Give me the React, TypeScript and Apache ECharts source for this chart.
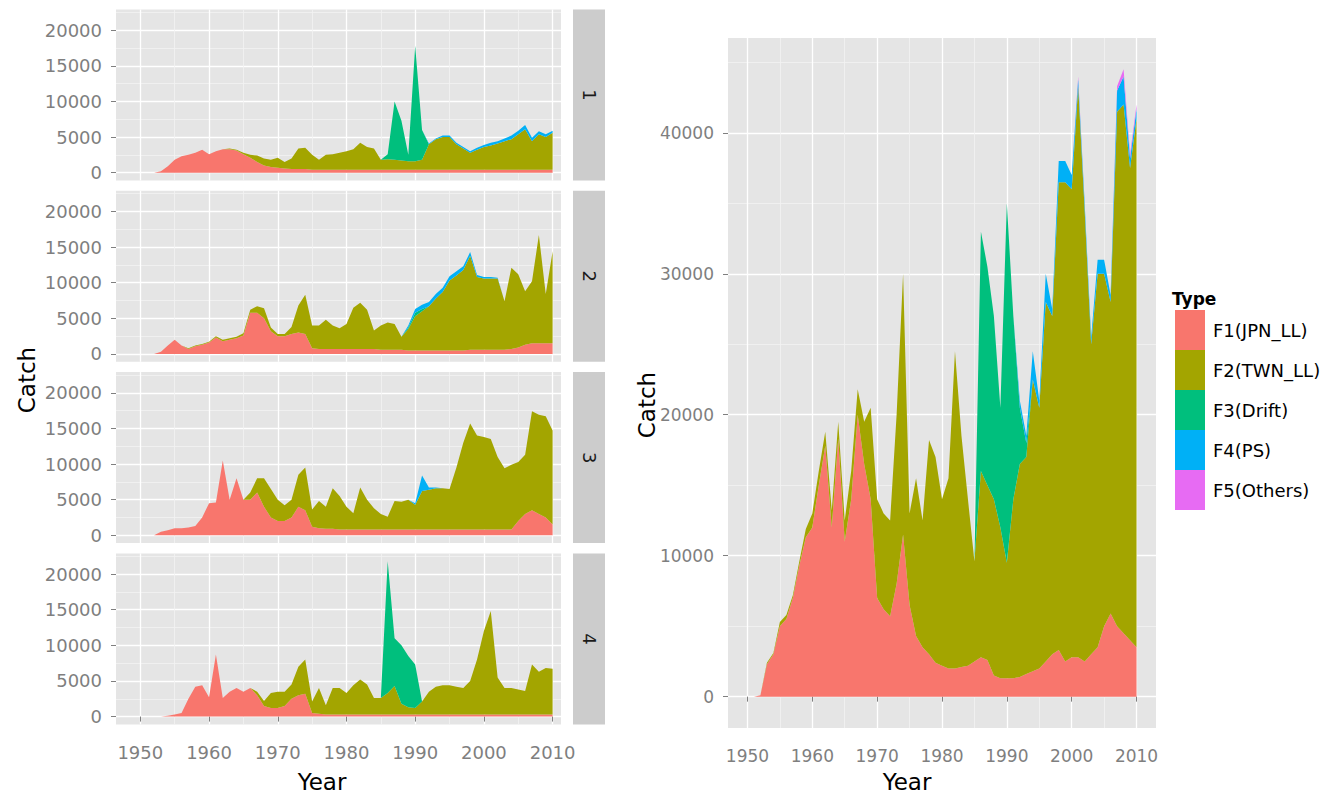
import React, { useEffect, useRef } from "react";
import * as echarts from "echarts";

// ---------------- data ----------------
const YEARS = [
  1950, 1951, 1952, 1953, 1954, 1955, 1956, 1957, 1958, 1959,
  1960, 1961, 1962, 1963, 1964, 1965, 1966, 1967, 1968, 1969,
  1970, 1971, 1972, 1973, 1974, 1975, 1976, 1977, 1978, 1979,
  1980, 1981, 1982, 1983, 1984, 1985, 1986, 1987, 1988, 1989,
  1990, 1991, 1992, 1993, 1994, 1995, 1996, 1997, 1998, 1999,
  2000, 2001, 2002, 2003, 2004, 2005, 2006, 2007, 2008, 2009,
  2010,
];
const TYPES = ["F1(JPN_LL)", "F2(TWN_LL)", "F3(Drift)", "F4(PS)", "F5(Others)"];
const COLORS = ["#F8766D", "#A3A500", "#00BF7D", "#00B0F6", "#E76BF3"];
const FACETS = ["1", "2", "3", "4"];
const LEFT_Y_TICKS = [0, 5000, 10000, 15000, 20000];
const LEFT_Y_MINOR = [2500, 7500, 12500, 17500, 22500];
const RIGHT_Y_TICKS = [0, 10000, 20000, 30000, 40000];
const RIGHT_Y_MINOR = [5000, 15000, 25000, 35000, 45000];
const X_TICKS = [1950, 1960, 1970, 1980, 1990, 2000, 2010];
const X_MINOR = [1955, 1965, 1975, 1985, 1995, 2005];

// Panel 1
const P1_F1 = [
  0, 0, 0, 200, 900, 1800, 2300, 2500, 2800, 3200,
  2600, 3000, 3300, 3300, 3100, 2600, 2100, 1500, 1000, 800,
  700, 600, 500, 500, 500, 400, 400, 400, 400, 400,
  400, 400, 400, 400, 400, 400, 400, 400, 400, 400,
  400, 400, 400, 400, 400, 400, 400, 400, 400, 400,
  400, 400, 400, 400, 400, 400, 400, 400, 400, 400,
  400,
];
const P1_F2 = [
  0, 0, 0, 0, 0, 0, 0, 0, 0, 0,
  0, 0, 0, 100, 100, 200, 400, 900, 1000, 1000,
  1400, 900, 1500, 2900, 3000, 2100, 1400, 2100, 2200, 2400,
  2600, 2900, 3800, 3200, 3000, 1400, 1500, 1400, 1300, 1200,
  1200, 1400, 3600, 4300, 4600, 4600, 3600, 3000, 2400, 2800,
  3200, 3400, 3700, 4000, 4300, 5000, 5700, 4000, 5000, 4600,
  5200,
];
const P1_F3: Record<number, number> = { 1986: 700, 1987: 8200, 1988: 5600, 1989: 900, 1990: 16200, 1991: 4200 };
const P1_F4: Record<number, number> = {
  1992: 100, 1993: 100, 1994: 200, 1995: 200, 1996: 200, 1997: 200, 1998: 200, 1999: 300,
  2000: 300, 2001: 400, 2002: 300, 2003: 400, 2004: 500, 2005: 500, 2006: 600, 2007: 500,
  2008: 400, 2009: 400, 2010: 300,
};

// Panel 2
const P2_F1 = [
  0, 0, 0, 300, 1200, 2000, 1200, 700, 1100, 1300,
  1600, 2300, 1800, 2000, 2200, 2600, 5800, 5800, 5000, 3200,
  2500, 2500, 2800, 3000, 2800, 800, 700, 700, 700, 700,
  700, 700, 700, 700, 700, 600, 600, 600, 600, 500,
  500, 500, 500, 500, 500, 500, 500, 500, 600, 600,
  600, 600, 600, 600, 700, 900, 1300, 1500, 1500, 1500,
  1500,
];
const P2_F2 = [
  0, 0, 0, 0, 0, 0, 0, 100, 100, 100,
  100, 200, 200, 200, 200, 300, 400, 900, 1400, 500,
  300, 300, 1000, 3800, 5500, 3200, 3300, 4100, 3300, 2900,
  3500, 5800, 6500, 5500, 2600, 3400, 3800, 3600, 1800, 3000,
  4800, 5500, 6200, 7300, 8200, 9800, 10500, 11300, 13200, 10200,
  10000, 10000, 10000, 6800, 11400, 10300, 7500, 8700, 15200, 6900,
  12900,
];
const P2_F3: Record<number, number> = { 1989: 200, 1990: 500, 1991: 300 };
const P2_F4: Record<number, number> = {
  1989: 300, 1990: 500, 1991: 600, 1992: 600, 1993: 600, 1994: 600, 1995: 600, 1996: 600,
  1997: 500, 1998: 500, 1999: 300, 2000: 200, 2001: 200, 2002: 100,
};

// Panel 3
const P3_F1 = [
  0, 0, 0, 500, 700, 1000, 1000, 1100, 1300, 2500,
  4500, 4600, 10500, 5000, 8000, 5000, 5000, 6000, 4000, 2500,
  2000, 2000, 2500, 4000, 3500, 1200, 1000, 900, 900, 800,
  800, 800, 800, 800, 800, 800, 800, 800, 800, 800,
  800, 800, 800, 800, 800, 800, 800, 800, 800, 800,
  800, 800, 800, 800, 800, 2000, 3000, 3500, 3000, 2500,
  1500,
];
const P3_F2 = [
  0, 0, 0, 0, 0, 0, 0, 0, 0, 0,
  0, 0, 0, 0, 0, 0, 1000, 2000, 4000, 4000,
  3000, 2200, 2500, 4500, 6000, 2400, 3800, 3100, 5700, 4700,
  3200, 2300, 5900, 4200, 3000, 2200, 1800, 4000, 3900, 4200,
  3500, 5400, 5600, 5800, 5800, 5700, 8700, 12200, 14900, 13200,
  13000, 12700, 10200, 8600, 9100, 8300, 8300, 13900, 13900, 14200,
  13200,
];
const P3_F4: Record<number, number> = { 1990: 200, 1991: 2200, 1992: 300, 1993: 100 };

// Panel 4
const P4_F1 = [
  0, 0, 0, 0, 100, 300, 500, 2500, 4200, 4400,
  2700, 8700, 2600, 3500, 4000, 3500, 4000, 3000, 1500, 1200,
  1200, 1500, 2500, 3000, 3200, 500, 400, 300, 300, 300,
  300, 300, 300, 300, 300, 300, 300, 300, 300, 300,
  300, 300, 300, 300, 300, 300, 300, 300, 300, 300,
  300, 300, 300, 300, 300, 300, 300, 300, 300, 300,
  300,
];
const P4_F2 = [
  0, 0, 0, 0, 0, 0, 0, 0, 0, 0,
  0, 0, 0, 0, 0, 0, 0, 500, 700, 2100,
  2300, 2000, 2000, 4000, 4800, 1600, 3600, 1300, 3700, 3700,
  3000, 4100, 4900, 4200, 2300, 2300, 3000, 4000, 1500, 1000,
  900, 1800, 3200, 3900, 4100, 4100, 3900, 3700, 4700, 7700,
  11700, 14500, 5200, 3700, 3700, 3500, 3300, 7000, 6000, 6500,
  6400,
];
const P4_F3: Record<number, number> = { 1986: 18500, 1987: 6700, 1988: 8200, 1989: 7200, 1990: 6100 };

// Right panel (all areas)
const ALL_F1 = [
  0, 0, 100, 2300, 3000, 5000, 5500, 7000, 9300, 11300,
  12000, 15000, 17800, 12000, 18300, 11000, 14000, 20000, 16500, 14000,
  7000, 6200, 5700, 8000, 11500, 6500, 4300, 3500, 3000, 2400,
  2200, 2000, 2000, 2100, 2200, 2500, 2800, 2600, 1500, 1300,
  1300, 1300, 1400, 1600, 1800, 2000, 2500, 3000, 3300, 2500,
  2800, 2800, 2500, 3000, 3500, 5000, 5900, 5000, 4500, 4000,
  3500,
];
const ALL_F2 = [
  0, 0, 0, 100, 100, 300, 300, 200, 300, 600,
  1000, 1000, 1000, 1200, 1200, 1500, 2000, 1800, 3000, 6500,
  7000, 6800, 6800, 12000, 18500, 6500, 11200, 9000, 15200, 14600,
  11800, 13500, 22500, 16400, 11800, 7100, 13200, 12400, 12500, 10700,
  8200, 12700, 15100, 15400, 20700, 18500, 25500, 24000, 33200, 34000,
  33200, 40500, 32000, 22000, 26500, 25000, 22100, 36500, 37500, 33500,
  37500,
];
const ALL_F3: Record<number, number> = {
  1986: 17000, 1987: 15500, 1988: 13000, 1989: 8500, 1990: 25500, 1991: 13000, 1992: 4000, 1993: 1000,
};
const ALL_F4: Record<number, number> = {
  1992: 500, 1993: 500, 1994: 2000, 1995: 500, 1996: 2000, 1997: 500, 1998: 1500, 1999: 1500,
  2000: 1000, 2001: 500, 2002: 500, 2003: 500, 2004: 1000, 2005: 1000, 2006: 500, 2007: 1500,
  2008: 2000, 2009: 700, 2010: 700,
};
const ALL_F5: Record<number, number> = { 2001: 200, 2007: 300, 2008: 500, 2009: 300, 2010: 300 };

// ---------------- helpers ----------------
type Vals = number[] | Record<number, number> | null;
const toArr = (v: Vals): number[] | null => {
  if (!v) return null;
  if (Array.isArray(v)) return v;
  return YEARS.map((y) => (v as Record<number, number>)[y] ?? 0);
};

const FONT = "DejaVu Sans";
const GREY = "#7f7f7f";

const PANEL_TOPS = [9.5, 190.8, 372.1, 553.4];
const PANEL_H = 171;
const LEFT_X = 116;
const LEFT_W = 445;

const plain = (v: number) => String(Math.round(v));

function buildOption() {
  const panels = [
    ...FACETS.map((f, i) => ({
      grid: { left: LEFT_X, top: PANEL_TOPS[i], width: LEFT_W, height: PANEL_H },
      xMin: 1946.46,
      xMax: 2011.22,
      yMin: -1100,
      yMax: 22900,
      yTicks: LEFT_Y_TICKS,
      yMinor: LEFT_Y_MINOR,
      showX: i === 3,
      yFont: 18,
      xFont: 18,
      vals: [
        [P1_F1, P1_F2, P1_F3, P1_F4, null],
        [P2_F1, P2_F2, P2_F3, P2_F4, null],
        [P3_F1, P3_F2, null, P3_F4, null],
        [P4_F1, P4_F2, P4_F3, null, null],
      ][i] as Vals[],
    })),
    {
      grid: { left: 728, top: 38, width: 428, height: 690 },
      xMin: 1947,
      xMax: 2013,
      yMin: -2225,
      yMax: 46725,
      yTicks: RIGHT_Y_TICKS,
      yMinor: RIGHT_Y_MINOR,
      showX: true,
      yFont: 17,
      xFont: 17,
      vals: [ALL_F1, ALL_F2, ALL_F3, ALL_F4, ALL_F5] as Vals[],
    },
  ];

  const grid: any[] = [];
  const xAxis: any[] = [];
  const yAxis: any[] = [];
  const series: any[] = [];

  panels.forEach((p, i) => {
    grid.push({
      ...p.grid,
      show: true,
      backgroundColor: "#e5e5e5",
      borderWidth: 0,
      containLabel: false,
    });
    // major x
    xAxis.push({
      type: "value",
      gridIndex: i,
      min: p.xMin,
      max: p.xMax,
      position: "bottom",
      axisLine: { show: false },
      axisTick: { show: p.showX, customValues: X_TICKS, length: 5, lineStyle: { color: GREY, width: 1 } },
      axisLabel: {
        show: p.showX,
        customValues: X_TICKS,
        formatter: plain,
        color: GREY,
        fontSize: p.xFont,
        fontFamily: FONT,
        margin: 19,
      },
      splitLine: { show: true, lineStyle: { color: "#ffffff", width: 1.3 } },
    });
    // minor x
    xAxis.push({
      type: "value",
      gridIndex: i,
      min: p.xMin,
      max: p.xMax,
      position: "top",
      axisLine: { show: false },
      axisTick: { show: false, customValues: X_MINOR },
      axisLabel: { show: false },
      splitLine: { show: true, lineStyle: { color: "#f2f2f2", width: 0.8 } },
    });
    // major y
    yAxis.push({
      type: "value",
      gridIndex: i,
      min: p.yMin,
      max: p.yMax,
      position: "left",
      axisLine: { show: false },
      axisTick: { show: true, customValues: p.yTicks, length: 5, lineStyle: { color: GREY, width: 1 } },
      axisLabel: {
        show: true,
        customValues: p.yTicks,
        formatter: plain,
        color: GREY,
        fontSize: p.yFont,
        fontFamily: FONT,
        margin: 14,
      },
      splitLine: { show: true, lineStyle: { color: "#ffffff", width: 1.3 } },
    });
    // minor y
    yAxis.push({
      type: "value",
      gridIndex: i,
      min: p.yMin,
      max: p.yMax,
      position: "right",
      axisLine: { show: false },
      axisTick: { show: false, customValues: p.yMinor },
      axisLabel: { show: false },
      splitLine: { show: true, lineStyle: { color: "#f2f2f2", width: 0.8 } },
    });

    p.vals.forEach((v, t) => {
      const arr = toArr(v);
      if (!arr) return;
      series.push({
        type: "line",
        name: TYPES[t],
        xAxisIndex: 2 * i,
        yAxisIndex: 2 * i,
        stack: "stack" + i,
        // value first so that the stack is computed on the catch value
        data: YEARS.map((y, k) => [arr[k], y]),
        encode: { x: 1, y: 0 },
        symbol: "none",
        showSymbol: false,
        smooth: false,
        silent: true,
        lineStyle: { width: 0, color: COLORS[t] },
        itemStyle: { color: COLORS[t] },
        areaStyle: { color: COLORS[t], opacity: 1 },
        z: 3,
      });
    });
  });

  const graphic: any[] = [];
  FACETS.forEach((f, i) => {
    graphic.push({
      type: "rect",
      shape: { x: 573, y: PANEL_TOPS[i], width: 32, height: PANEL_H },
      style: { fill: "#cccccc" },
      silent: true,
    });
    graphic.push({
      type: "text",
      x: 589,
      y: PANEL_TOPS[i] + PANEL_H / 2,
      rotation: -Math.PI / 2,
      style: {
        text: f,
        fontSize: 18,
        fontFamily: FONT,
        fill: "#1a1a1a",
        align: "center",
        verticalAlign: "middle",
        textAlign: "center",
        textVerticalAlign: "middle",
      },
      silent: true,
    });
  });
  const title = (text: string, x: number, y: number, rot: number) => ({
    type: "text",
    x,
    y,
    rotation: rot,
    style: {
      text,
      fontSize: 23,
      fontFamily: FONT,
      fill: "#000000",
      align: "center",
      verticalAlign: "middle",
      textAlign: "center",
      textVerticalAlign: "middle",
    },
    silent: true,
  });
  graphic.push(title("Catch", 27, 380, Math.PI / 2));
  graphic.push(title("Year", 322, 782, 0));
  graphic.push(title("Catch", 647, 405, Math.PI / 2));
  graphic.push(title("Year", 907, 782, 0));
  graphic.push({
    type: "text",
    x: 1172,
    y: 299,
    style: {
      text: "Type",
      fontSize: 17,
      fontWeight: "bold",
      fontFamily: FONT,
      fill: "#000000",
      align: "left",
      verticalAlign: "middle",
      textAlign: "left",
      textVerticalAlign: "middle",
    },
    silent: true,
  });

  return {
    animation: false,
    backgroundColor: "#ffffff",
    grid,
    xAxis,
    yAxis,
    series,
    graphic,
    legend: {
      data: TYPES,
      orient: "vertical",
      left: 1175,
      top: 310,
      itemWidth: 30,
      itemHeight: 40,
      itemGap: 0,
      icon: "rect",
      selectedMode: false,
      padding: 0,
      textStyle: { fontSize: 18, fontFamily: FONT, color: "#000000", padding: [0, 0, 0, 3] },
    },
  };
}

export default function App() {
  const ref = useRef<HTMLDivElement>(null);
  useEffect(() => {
    document.body.style.margin = "0";
    const chart = echarts.init(ref.current as HTMLDivElement, undefined, { renderer: "svg" });
    chart.setOption(buildOption() as any);
    return () => chart.dispose();
  }, []);
  return (
    <div
      ref={ref}
      style={{ width: 1332, height: 798, position: "absolute", left: 0, top: 0, background: "#ffffff" }}
    />
  );
}
